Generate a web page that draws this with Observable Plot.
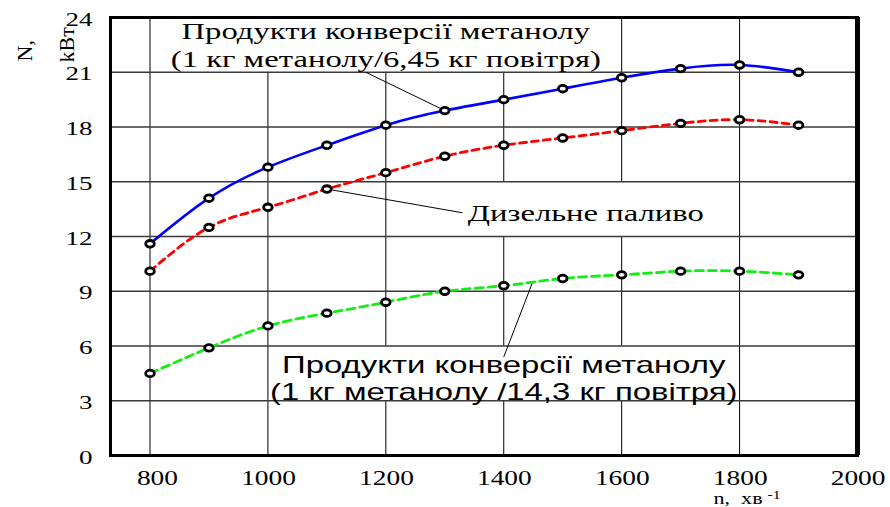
<!DOCTYPE html>
<html><head><meta charset="utf-8">
<script src="https://cdn.jsdelivr.net/npm/d3@7"></script>
<script src="https://cdn.jsdelivr.net/npm/@observablehq/plot@0.6"></script>
<style>body{margin:0;background:#fff} #chart{width:890px;height:507px}</style>
</head><body><div id="chart"></div>
<script>
// ---- data ----
const rpm = [800, 900, 1000, 1100, 1200, 1300, 1400, 1500, 1600, 1700, 1800, 1900];
const powerMethanol645 = [11.6, 14.1, 15.8, 17.0, 18.1, 18.9, 19.5, 20.1, 20.7, 21.2, 21.4, 21.0];
const powerDiesel      = [10.1, 12.5, 13.6, 14.6, 15.5, 16.4, 17.0, 17.4, 17.8, 18.2, 18.4, 18.1];
const powerMethanol143 = [4.5, 5.9, 7.1, 7.8, 8.4, 9.0, 9.3, 9.7, 9.9, 10.1, 10.1, 9.9];
const xTicks = [800, 1000, 1200, 1400, 1600, 1800, 2000];
const yTicks = [0, 3, 6, 9, 12, 15, 18, 21, 24];
const xGrid = [800, 1000, 1200, 1400, 1600, 1800];
const yGrid = [3, 6, 9, 12, 15, 18, 21];
const labelTop = ["Продукти конверсії метанолу", "(1 кг метанолу/6,45 кг повітря)"];
const labelDiesel = ["Дизельне паливо"];
const labelBottom = ["Продукти конверсії метанолу", "(1 кг метанолу /14,3 кг повітря)"];
const yTitle = ["N,", "kВт"];
const xTitle = ["n,  хв"];
const xTitleSup = ["-1"];

// ---- annotation placement (data units) ----
const notes = {
  top:    {x: 1200, y: [23.2, 21.7], box: {x1: 810, x2: 1590, y1: 21, y2: 24}, leader: {x1: 1166, y1: 21.0, x2: 1300, y2: 18.9}},
  diesel: {x: 1339, y: [13.26],      box: {x1: 1327, x2: 1745, y1: 12, y2: 15}, leader: {x1: 1100, y1: 14.6, x2: 1330, y2: 13.3}},
  bottom: {x: 1400, y: [4.93, 3.45], box: {x1: 1010, x2: 1790, y1: 3, y2: 6},   leader: {x1: 1449, y1: 9.5, x2: 1400, y2: 5.4}}
};

const toRows = (vals) => rpm.map((n, i) => ({n, p: vals[i]}));
const sBlue = toRows(powerMethanol645);
const sRed = toRows(powerDiesel);
const sGreen = toRows(powerMethanol143);

const ellipse = {draw(ctx, size) {
  const r = Math.sqrt(size / Math.PI), rx = r * 1.3, ry = r, k = 0.5523;
  ctx.moveTo(rx, 0);
  ctx.bezierCurveTo(rx, ry * k, rx * k, ry, 0, ry);
  ctx.bezierCurveTo(-rx * k, ry, -rx, ry * k, -rx, 0);
  ctx.bezierCurveTo(-rx, -ry * k, -rx * k, -ry, 0, -ry);
  ctx.bezierCurveTo(rx * k, -ry, rx, -ry * k, rx, 0);
  ctx.closePath();
}};

const serif = "Liberation Serif, Times New Roman, serif";
const sans = "Liberation Sans, Arial, sans-serif";
const boxes = [notes.top.box, notes.diesel.box, notes.bottom.box];
const leaders = [notes.top.leader, notes.diesel.leader, notes.bottom.leader];
const dotOpts = {x: "n", y: "p", symbol: ellipse, r: 3.3, fill: "white", stroke: "black", strokeWidth: 2.8};

const svg = Plot.plot({
  width: 890, height: 507,
  marginLeft: 110, marginRight: 33, marginTop: 17, marginBottom: 52,
  style: {fontFamily: serif, background: "white", overflow: "visible"},
  x: {domain: [733, 2000]},
  y: {domain: [0, 24]},
  marks: [
    Plot.ruleX(xGrid, {stroke: "black", strokeWidth: 1}),
    Plot.rect(boxes, {x1: "x1", x2: "x2", y1: "y1", y2: "y2", fill: "white"}),
    Plot.ruleY(yGrid, {stroke: "#3a3a3a", strokeWidth: 1.3}),
    Plot.frame({stroke: "black", strokeWidth: 3}),
    Plot.ruleX([2000], {stroke: "black", strokeWidth: 5}),
    Plot.link(leaders, {x1: "x1", y1: "y1", x2: "x2", y2: "y2", stroke: "black", strokeWidth: 1}),
    Plot.line(sBlue, {x: "n", y: "p", curve: "natural", stroke: "#0000ff", strokeWidth: 2.6}),
    Plot.line(sRed, {x: "n", y: "p", curve: "natural", stroke: "#ff0000", strokeWidth: 2.8, strokeDasharray: "7,5"}),
    Plot.line(sGreen, {x: "n", y: "p", curve: "natural", stroke: "#11ee11", strokeWidth: 2.8, strokeDasharray: "8,5"}),
    Plot.dot(sBlue, dotOpts),
    Plot.dot(sRed, dotOpts),
    Plot.dot(sGreen, dotOpts),
    Plot.text(labelTop, {x: () => notes.top.x, y: (d, i) => notes.top.y[i], text: d => d, fontSize: 23, fontFamily: serif, fill: "black", className: "ann-serif"}),
    Plot.text(labelDiesel, {x: () => notes.diesel.x, y: (d, i) => notes.diesel.y[i], text: d => d, fontSize: 23, fontFamily: serif, textAnchor: "start", fill: "black", className: "ann-serif"}),
    Plot.text(labelBottom, {x: () => notes.bottom.x, y: (d, i) => notes.bottom.y[i], text: d => d, fontSize: 23, fontFamily: sans, fill: "black", className: "ann-sans"}),
    Plot.axisY({ticks: yTicks, tickSize: 0, tickPadding: 18, fontSize: 19, dy: 2, tickFormat: d => String(d), label: null, className: "yt"}),
    Plot.axisX({ticks: xTicks, tickSize: 0, tickPadding: 15, fontSize: 20, textAnchor: "end", dx: 28, tickFormat: d => String(d), label: null, className: "xt"}),
    Plot.text([yTitle[0]], {frameAnchor: "top-left", dx: -94, dy: 44, rotate: -90, text: d => d, fontSize: 22, fill: "black"}),
    Plot.text([yTitle[1]], {frameAnchor: "top-left", dx: -52, dy: 45, rotate: -90, text: d => d, fontSize: 22, fill: "black"}),
    Plot.text(xTitle, {frameAnchor: "bottom-right", dx: -144, dy: 48, textAnchor: "start", text: d => d, fontSize: 17, fill: "black", className: "xtitle"}),
    Plot.text(xTitleSup, {frameAnchor: "bottom-right", dx: -90, dy: 43, textAnchor: "start", text: d => d, fontSize: 12, fill: "black", className: "xtitle"})
  ]
});
document.getElementById("chart").append(svg);

// horizontal stretch of the lettering, as in the reference picture
const stretch = {"ann-serif": 1.42, "ann-sans": 1.43, "yt": 1.42, "xt": 1.37, "xtitle": 1.3};
svg.querySelectorAll("g").forEach(g => {
  let k = null;
  for (const c in stretch) if (g.classList.contains(c)) k = stretch[c];
  if (!k) return;
  g.querySelectorAll("text").forEach(t => {
    const tr = t.getAttribute("transform") || "";
    if (tr.includes("rotate")) return;
    t.setAttribute("transform", tr + ` scale(${k},1)`);
  });
});
</script>
</body></html>
